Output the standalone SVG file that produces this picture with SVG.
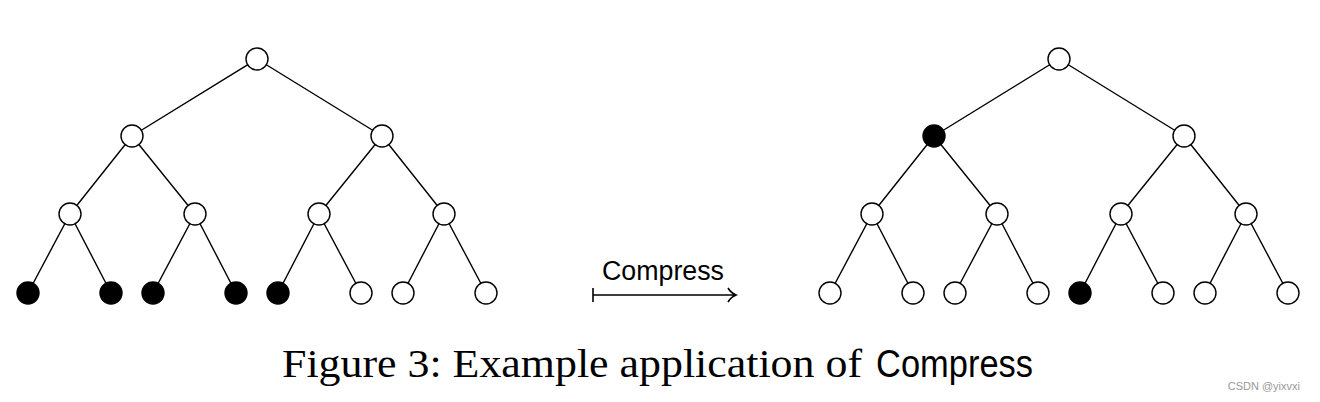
<svg xmlns="http://www.w3.org/2000/svg" width="1320" height="402" viewBox="0 0 1320 402">
<style>
.e{stroke:#000;stroke-width:1.4;fill:none}
.w{fill:#fff;stroke:#000;stroke-width:1.4}
.b{fill:#000;stroke:#000;stroke-width:1.4}
.sans{font-family:"Liberation Sans",Arial,sans-serif}
.serif{font-family:"Liberation Serif",serif}
</style>
<rect width="1320" height="402" fill="#fff"/>
<g id="edges-left" class="e">
<path d="M257,59L132,136M257,59L382,136M132,136L70,214M132,136L195,214M382,136L319,214M382,136L444,214M70,214L28,293M70,214L111,293M195,214L153,293M195,214L236,293M319,214L278,293M319,214L361,293M444,214L403,293M444,214L486,293"/>
</g>
<g id="edges-right" class="e" transform="translate(802,0)">
<path d="M257,59L132,136M257,59L382,136M132,136L70,214M132,136L195,214M382,136L319,214M382,136L444,214M70,214L28,293M70,214L111,293M195,214L153,293M195,214L236,293M319,214L278,293M319,214L361,293M444,214L403,293M444,214L486,293"/>
</g>
<g id="L-root"><circle class="w" cx="257" cy="59" r="11"/></g>
<g id="L-a"><circle class="w" cx="132" cy="136" r="11"/></g>
<g id="L-b"><circle class="w" cx="382" cy="136" r="11"/></g>
<g id="L-aa"><circle class="w" cx="70" cy="214" r="11"/></g>
<g id="L-ab"><circle class="w" cx="195" cy="214" r="11"/></g>
<g id="L-ba"><circle class="w" cx="319" cy="214" r="11"/></g>
<g id="L-bb"><circle class="w" cx="444" cy="214" r="11"/></g>
<g id="L-l1"><circle class="b" cx="28" cy="293" r="11"/></g>
<g id="L-l2"><circle class="b" cx="111" cy="293" r="11"/></g>
<g id="L-l3"><circle class="b" cx="153" cy="293" r="11"/></g>
<g id="L-l4"><circle class="b" cx="236" cy="293" r="11"/></g>
<g id="L-l5"><circle class="b" cx="278" cy="293" r="11"/></g>
<g id="L-l6"><circle class="w" cx="361" cy="293" r="11"/></g>
<g id="L-l7"><circle class="w" cx="403" cy="293" r="11"/></g>
<g id="L-l8"><circle class="w" cx="486" cy="293" r="11"/></g>
<g id="R-root"><circle class="w" cx="1059" cy="59" r="11"/></g>
<g id="R-a"><circle class="b" cx="934" cy="136" r="11"/></g>
<g id="R-b"><circle class="w" cx="1184" cy="136" r="11"/></g>
<g id="R-aa"><circle class="w" cx="872" cy="214" r="11"/></g>
<g id="R-ab"><circle class="w" cx="997" cy="214" r="11"/></g>
<g id="R-ba"><circle class="w" cx="1121" cy="214" r="11"/></g>
<g id="R-bb"><circle class="w" cx="1246" cy="214" r="11"/></g>
<g id="R-l1"><circle class="w" cx="830" cy="293" r="11"/></g>
<g id="R-l2"><circle class="w" cx="913" cy="293" r="11"/></g>
<g id="R-l3"><circle class="w" cx="955" cy="293" r="11"/></g>
<g id="R-l4"><circle class="w" cx="1038" cy="293" r="11"/></g>
<g id="R-l5"><circle class="b" cx="1080" cy="293" r="11"/></g>
<g id="R-l6"><circle class="w" cx="1163" cy="293" r="11"/></g>
<g id="R-l7"><circle class="w" cx="1205" cy="293" r="11"/></g>
<g id="R-l8"><circle class="w" cx="1288" cy="293" r="11"/></g>
<g id="arrow" class="e" style="stroke-width:1.6">
<path d="M593,295H735M593,288V302M728,288Q731,293 736,295Q731,297 728,302"/>
</g>
<text class="sans" x="663" y="280" font-size="27" text-anchor="middle" textLength="122" lengthAdjust="spacingAndGlyphs">Compress</text>
<text class="serif" x="282" y="377" font-size="41" textLength="580" lengthAdjust="spacingAndGlyphs">Figure 3: Example application of</text>
<text class="sans" x="876" y="377" font-size="38" textLength="157" lengthAdjust="spacingAndGlyphs">Compress</text>
<text x="1300" y="390" font-size="11" fill="#999" text-anchor="end" font-family="Liberation Sans,sans-serif">CSDN @yixvxi</text>
</svg>
